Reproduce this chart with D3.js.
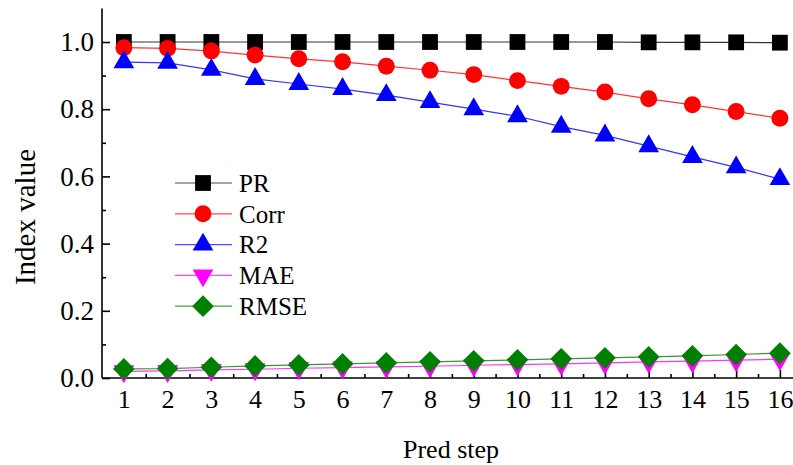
<!DOCTYPE html>
<html>
    <head>
        <meta charset="utf-8">
        <style>
            body { margin: 0; background: #fff; }
            text { font-family: "Liberation Serif", "Times New Roman", serif; fill: #000; }
            .axis path, .axis line { stroke: #000; }
        </style>
        <script src="https://d3js.org/d3.v7.min.js"></script>
    </head>
    <body>
        <svg width="793" height="465"></svg>
        <script>
            // data
            var steps = [1, 2, 3, 4, 5, 6, 7, 8, 9, 10, 11, 12, 13, 14, 15, 16];
            var pr   = [1.0, 1.0, 1.0, 1.0, 1.0, 1.0, 1.0, 1.0, 1.0, 1.0, 1.0, 1.0, 0.999, 0.999, 0.999, 0.998];
            var corr = [0.983, 0.981, 0.973, 0.961, 0.950, 0.941, 0.928, 0.916, 0.903, 0.885, 0.868, 0.851, 0.831, 0.813, 0.793, 0.773];
            var r2   = [0.940, 0.938, 0.917, 0.890, 0.875, 0.860, 0.842, 0.821, 0.800, 0.779, 0.748, 0.722, 0.690, 0.658, 0.627, 0.592];
            var mae  = [0.020, 0.021, 0.024, 0.026, 0.029, 0.031, 0.033, 0.035, 0.038, 0.040, 0.042, 0.045, 0.048, 0.050, 0.053, 0.056];
            var rmse = [0.027, 0.028, 0.032, 0.036, 0.039, 0.042, 0.045, 0.048, 0.051, 0.054, 0.057, 0.060, 0.063, 0.066, 0.070, 0.074];
            var yTicks = [0, 0.2, 0.4, 0.6, 0.8, 1.0];

            var series = [
                {name: "PR", values: pr, color: "#000000", shape: "square"},
                {name: "Corr", values: corr, color: "#ff0000", shape: "circle"},
                {name: "R2", values: r2, color: "#0000ff", shape: "triangle"},
                {name: "MAE", values: mae, color: "#ff00ff", shape: "down"},
                {name: "RMSE", values: rmse, color: "#008000", shape: "diamond"}
            ];

            var svg = d3.select("svg");
            var x = d3.scaleLinear().domain([0.5, 16.3]).range([102, 793]);
            var y = d3.scaleLinear().domain([0, 1.1]).range([378, 8.4]);

            function symbolPath(shape) {
                if (shape == "square") return d3.symbol(d3.symbolSquare, 250)();
                if (shape == "circle") return d3.symbol(d3.symbolCircle, 225)();
                if (shape == "triangle" || shape == "down") return d3.symbol(d3.symbolTriangle, 185)();
                return d3.symbol(d3.symbolSquare, 235)();
            }
            function symbolRotate(shape) {
                if (shape == "down") return " rotate(180)";
                if (shape == "diamond") return " rotate(45)";
                return "";
            }

            // axes, ticks point inward
            var yAxis = svg.append("g").attr("class", "axis").attr("transform", "translate(102,0)")
                .call(d3.axisLeft(y).tickValues(yTicks).tickFormat(d3.format(".1f")).tickSize(-8).tickPadding(8));
            yAxis.select(".domain").attr("d", "M0," + y(1.1) + "V" + y(0));
            yAxis.selectAll("text").style("font-size", "27px");
            svg.append("g").attr("class", "axis").attr("transform", "translate(102,0)")
                .call(d3.axisLeft(y).tickValues(d3.range(0.1, 1.1, 0.2)).tickFormat("").tickSize(-4))
                .select(".domain").remove();

            var xAxis = svg.append("g").attr("class", "axis").attr("transform", "translate(0,378)")
                .call(d3.axisBottom(x).tickValues(steps).tickSize(-8).tickPadding(12).tickFormat(d3.format("d")));
            xAxis.select(".domain").attr("d", "M102,0H793");
            xAxis.selectAll("text").style("font-size", "26px");
            svg.append("g").attr("class", "axis").attr("transform", "translate(0,378)")
                .call(d3.axisBottom(x).tickValues(d3.range(1.5, 16, 1)).tickFormat("").tickSize(-4))
                .select(".domain").remove();
            svg.selectAll(".axis line, .axis path").attr("stroke-width", 1.6);

            // series
            series.forEach(function(s) {
                var pts = steps.map(function(d, i) { return [x(d), y(s.values[i])]; });
                svg.append("path").attr("d", d3.line()(pts)).attr("fill", "none")
                    .attr("stroke", s.color).attr("stroke-width", 1.2).attr("stroke-opacity", 0.8);
                svg.append("g").selectAll("path").data(pts).enter().append("path")
                    .attr("d", symbolPath(s.shape))
                    .attr("transform", function(p) { return "translate(" + p[0] + "," + p[1] + ")" + symbolRotate(s.shape); })
                    .attr("fill", s.color);
            });

            // legend
            var legend = svg.append("g");
            series.forEach(function(s, i) {
                var ly = 183 + i * 30.8;
                legend.append("line").attr("x1", 175).attr("x2", 232).attr("y1", ly).attr("y2", ly)
                    .attr("stroke", s.color).attr("stroke-width", 1.2).attr("stroke-opacity", 0.7);
                legend.append("path").attr("d", symbolPath(s.shape))
                    .attr("transform", "translate(203," + ly + ")" + symbolRotate(s.shape))
                    .attr("fill", s.color);
                legend.append("text").attr("x", 239).attr("y", ly).attr("dy", "0.35em")
                    .style("font-size", "25px").text(s.name);
            });

            // titles
            svg.append("text").attr("transform", "translate(25,217) rotate(-90)")
                .attr("text-anchor", "middle").attr("dy", "0.35em").style("font-size", "29px").text("Index value");
            svg.append("text").attr("x", 451).attr("y", 458).attr("text-anchor", "middle")
                .style("font-size", "26px").text("Pred step");
        </script>
    </body>
</html>
